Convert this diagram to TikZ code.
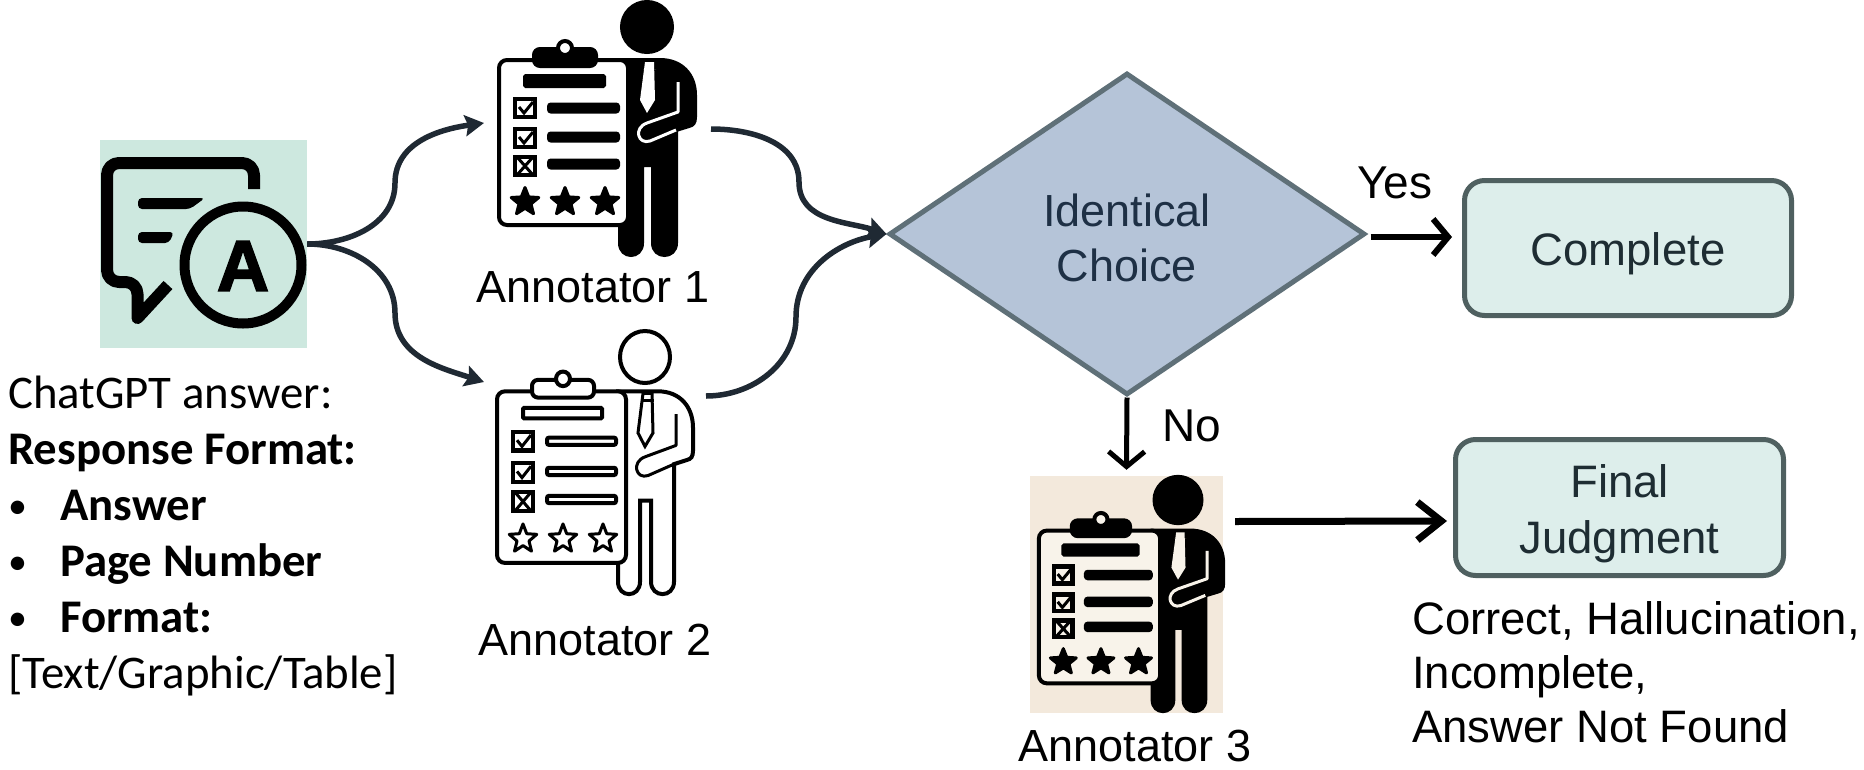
\documentclass[tikz,border=0pt]{standalone}
\usepackage{fontspec}
\setmainfont{Liberation Sans}
\newfontfamily\carlito{Carlito}
\newfontfamily\heavy{Liberation Sans}[BoldFeatures={FakeBold=2.5}]
\usetikzlibrary{arrows.meta,positioning,shapes.geometric}
\definecolor{cMint}{HTML}{CDE8DF}
\definecolor{cTan}{HTML}{F3E9DC}
\definecolor{cTanLight}{HTML}{F8F3EA}
\definecolor{cBoxFill}{HTML}{DDEEEB}
\definecolor{cBoxLine}{HTML}{4F6060}
\definecolor{cChoice}{HTML}{B5C4D8}
\definecolor{cChoiceLine}{HTML}{5F7078}
\definecolor{cConn}{HTML}{1F2933}
\definecolor{cInk}{HTML}{1E3045}
\definecolor{cInkBox}{HTML}{1E2D33}
\colorlet{cPaper}{white}

\tikzset{
    bodySolid/.style={fill=black, draw=black},
    bodyHollow/.style={fill=cPaper, draw=black},
    armSolid/.style={draw=cPaper},
    armHollow/.style={draw=black},
    tieSolid/.style={fill=cPaper},
    tieHollow/.style={fill=cPaper, draw=black},
    starmark/.style={star, star points=5, star point ratio=2.3, minimum size=29pt,
        inner sep=0pt, line width=3pt, line join=round, transform shape},
    pics/annotator/.style={code={
        \begin{scope}[line width=4pt]
        % person behind the board
        \path[body#1] (-27,33) -- (13,33) .. controls (35,33) and (48,48) .. (48,68)
            -- (48,90) .. controls (48,96) and (46,98) .. (42,99) -- (29,103)
            -- (29,216) .. controls (29,232) and (6,232) .. (6,216) -- (6,138)
            -- (-5,138) -- (-5,216) .. controls (-5,232) and (-27,232) .. (-27,216) -- cycle;
        \path[body#1] (0,0) circle[radius=25];
        \path[tie#1, line width=3pt] (-2,35) -- (7,35) -- (8,73) -- (0,86) -- (-7,73) -- cycle;
        \path[tie#1, line width=3pt] (-4,42) -- (9,42);
        \path[arm#1, line width=3pt, line join=round] (31,55) -- (31,85) -- (0,96)
            .. controls (-14,101) and (-9,118) .. (3,114) -- (29,103);
        % board
        \path[fill=cPaper, draw=black, rounded corners=8pt] (-148,33) rectangle (-19,198);
        \path[body#1, rounded corners=6pt] (-113,22) rectangle (-51,39);
        \path[fill=cPaper, draw=black] (-82,21) circle[radius=7];
        \path[body#1, rounded corners=1pt] (-122,49) rectangle (-43,59);
        \foreach \y in {81,110,137}
            \path[body#1, rounded corners=2pt] (-98,\y-3.5) rectangle (-29,\y+3.5);
        \foreach \y in {70,100,128}
            \path[fill=cPaper, draw=black, line width=4.5pt] (-132,\y+2) rectangle (-112,\y+20);
        \foreach \y in {70,100}
            \draw[line width=3pt] (-128,\y+10) -- (-123,\y+16) -- (-114,\y+5);
        \draw[line width=3pt] (-130,130) -- (-114,148) (-130,148) -- (-114,130);
        \foreach \x/\n in {-122/a,-82/b,-42/c}
            \node[starmark, body#1] (star\n) at (\x,175) {};
        \end{scope}
    }}
}
\newcommand{\dotitem}{\makebox[52pt][l]{\raisebox{2pt}{\fontsize{38}{38}\selectfont\textbullet}}}

\begin{document}
\begin{tikzpicture}[x=1pt, y=-1pt,
    lbl/.style={font=\fontsize{45}{54}\selectfont, anchor=base, inner sep=0pt},
    plain/.style={font=\fontsize{46}{54}\selectfont, anchor=base west, inner sep=0pt},
    result/.style={rectangle, rounded corners=20pt, draw=cBoxLine, line width=5pt, fill=cBoxFill,
        text=cInkBox, align=center, inner sep=0pt},
    choice/.style={diamond, aspect=1.48, draw=cChoiceLine, line width=5pt, fill=cChoice,
        minimum width=476pt, minimum height=322pt, inner sep=0pt, text=cInk, align=center},
    conn/.style={line width=5.5pt, draw=cConn, -{Stealth[length=19pt, width=21pt, inset=3pt]}},
    barb/.style={line width=6pt, -{Straight Barb[length=15pt, width=36pt]}},
    bubble/.style={line width=12pt, line join=round}
]
\useasboundingbox (0,0) rectangle (1864,769);

% answer icon
\node[fill=cMint, minimum width=207pt, minimum height=208pt, inner sep=0pt] (chat) at (203.5,244) {};
\draw[bubble, rounded corners=12pt] (254,189) -- (254,163) -- (107,163) -- (107,282) -- (137.5,282)
    [sharp corners] -- (137.5,318) -- (168,285);
\fill[rounded corners=4pt] (138,198) -- (205,198) -- (190,209) -- (138,209) -- cycle;
\fill[rounded corners=4pt] (138,232) -- (174,232) -- (169,243) -- (138,243) -- cycle;
\node[circle, draw=black, line width=10pt, minimum size=117pt, inner sep=0pt] (circ) at (243,265) {};
\node[font=\heavy\fontsize{72}{72}\selectfont\bfseries, inner sep=0pt] (letter) at (243,266) {A};

\node[anchor=north west, inner sep=0pt, align=left, font=\carlito\fontsize{46.8}{56}\selectfont] (fmt) at (8,376) {%
    ChatGPT answer:\\
    \textbf{Response Format:}\\
    \dotitem\textbf{Answer}\\
    \dotitem\textbf{Page Number}\\
    \dotitem\textbf{Format:}\\
    {[Text/Graphic/Table]}};

% annotators
\pic (one) at (647,27) {annotator=Solid};
\pic[yscale=1.04] (two) at (645,357) {annotator=Hollow};
\node[fill=cTan, minimum width=193pt, minimum height=237pt, inner sep=0pt] (tan) at (1126.5,594.5) {};
\begin{scope}
    \colorlet{cPaper}{cTanLight}
    \pic[xscale=0.94, yscale=0.926] (three) at (1178,500) {annotator=Solid};
\end{scope}
\node[lbl] (lbl1) at (593,302) {Annotator 1};
\node[lbl] (lbl2) at (595,655) {Annotator 2};
\node[lbl] (lbl3) at (1135,761) {Annotator 3};

% decision and results
\node[choice, font=\fontsize{45}{55}\selectfont] (dec) at (1127,234) {\rule{0pt}{40pt}Identical\\Choice};
\node[result, minimum width=327pt, minimum height=135pt, font=\fontsize{45.5}{56}\selectfont] (done) at (1628,248) {\rule{0pt}{45pt}Complete};
\node[result, minimum width=328pt, minimum height=136pt, font=\fontsize{45.5}{56}\selectfont] (final) at (1619.5,507.5) {\rule{0pt}{45pt}Final\\Judgment};
\node[plain] (yes) at (1357,198) {Yes};
\node[plain] (no) at (1162,441) {No};
\node[anchor=north west, inner sep=0pt, align=left, font=\fontsize{45.5}{54}\selectfont] (verdicts) at (1412,601) {Correct, Hallucination,\\Incomplete,\\Answer Not Found};

\coordinate (oneIn) at (484,123);
\coordinate (twoIn) at (484,382);
\coordinate (oneOut) at (711,129);
\coordinate (twoOut) at (706,396);

\draw[conn] (chat.east) to[out=0, in=-90] (395,183) to[out=90, in=188] (oneIn);
\draw[conn] (chat.east) to[out=0, in=90] (395,313) to[out=-90, in=162] (twoIn);
\draw[conn] (oneOut) to[out=0, in=90] (799,182) to[out=-90, in=162] (dec.west);
\draw[conn] (twoOut) to[out=0, in=-90] (796,317) to[out=90, in=190] (dec.west);

\draw[barb] ([shift={(3,3)}]dec.east) -- ([shift={(-10,-11)}]done.west);
\draw[barb, line width=5pt] (dec.south) -- ([shift={(0,-6)}]tan.north);
\draw[line width=7pt, -{Straight Barb[length=24pt, width=38pt]}] ([shift={(12,-73)}]tan.east) -- ([shift={(-6,13.5)}]final.west);
\end{tikzpicture}
\end{document}
